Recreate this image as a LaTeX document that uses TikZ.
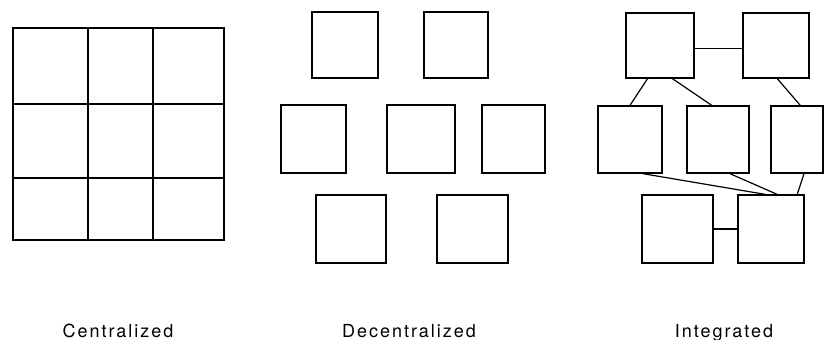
\documentclass[tikz,border=0pt]{standalone}
\usepackage{fontspec}
\setmainfont{TeX Gyre Heros}
\newfontfamily\capfont[LetterSpace=11]{TeX Gyre Heros}
\usetikzlibrary{positioning,calc,fit}

\tikzset{
  unit/.style={draw, line width=0.7pt, inner sep=0pt},
  link/.style={line width=0.6pt},
  caption/.style={font=\capfont\fontsize{9}{10}\selectfont, anchor=base, inner sep=0pt}
}

\begin{document}
\begin{tikzpicture}[x=0.5pt, y=-0.5pt]
  \useasboundingbox (0,0) rectangle (824,339);

  %centralized
  \draw[line width=0.7pt] (13,28) rectangle (224,240);
  \draw[line width=0.7pt] (88,28) -- (88,240);
  \draw[line width=0.7pt] (153,28) -- (153,240);
  \draw[line width=0.7pt] (13,104) -- (224,104);
  \draw[line width=0.7pt] (13,178) -- (224,178);

  %decentralized
  \node[unit, fit={(312,12) (378,78)}] (d1) {};
  \node[unit, fit={(424,12) (488,78)}] (d2) {};
  \node[unit, fit={(281,105) (346,173)}] (d3) {};
  \node[unit, fit={(387,105) (455,173)}] (d4) {};
  \node[unit, fit={(482,105) (545,173)}] (d5) {};
  \node[unit, fit={(316,195) (386,263)}] (d6) {};
  \node[unit, fit={(437,195) (508,263)}] (d7) {};

  %integrated
  \node[unit, fit={(626,13) (694,78)}] (i1) {};
  \node[unit, fit={(743,13) (809,78)}] (i2) {};
  \node[unit, fit={(598,106) (662,173)}] (i3) {};
  \node[unit, fit={(687,106) (749,173)}] (i4) {};
  \node[unit, fit={(771,106) (823,173)}] (i5) {};
  \node[unit, fit={(642,195) (713,263)}] (i6) {};
  \node[unit, fit={(738,195) (804,263)}] (i7) {};

  \coordinate (h) at ($(i1.north east)!0.55!(i1.south east)$);
  \draw[link] (h) -- (h -| i2.west);
  \draw[link] ($(i1.south west)!0.32!(i1.south east)$) -- ($(i3.north west)!0.5!(i3.north east)$);
  \draw[link] ($(i1.south west)!0.68!(i1.south east)$) -- ($(i4.north west)!0.4!(i4.north east)$);
  \draw[link] ($(i2.south west)!0.52!(i2.south east)$) -- ($(i5.north west)!0.56!(i5.north east)$);
  \draw[link] ($(i3.south west)!0.7!(i3.south east)$) -- ($(i7.north west)!0.41!(i7.north east)$);
  \draw[link] ($(i4.south west)!0.69!(i4.south east)$) -- ($(i7.north west)!0.59!(i7.north east)$);
  \draw[link] ($(i5.south west)!0.63!(i5.south east)$) -- ($(i7.north west)!0.89!(i7.north east)$);
  \draw[link] (i6.east) -- (i7.west);

  %labels
  \node[caption] (c1) at (118,337) {Centralized};
  \node[caption] (c2) at (409,337) {Decentralized};
  \node[caption] (c3) at (724,337) {Integrated};
\end{tikzpicture}
\end{document}
